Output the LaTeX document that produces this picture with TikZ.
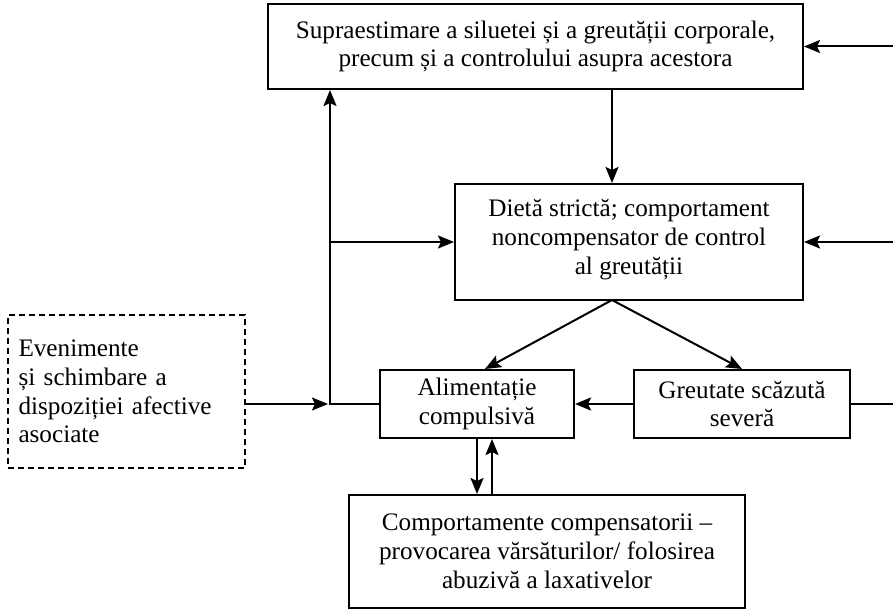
\documentclass[tikz,border=0pt]{standalone}
\usepackage{fontspec}
\setmainfont{Liberation Serif}
\usepackage{tikz}
\usetikzlibrary{arrows.meta,calc,positioning}

\begin{document}
\begin{tikzpicture}[x=0.5pt,y=-0.5pt,
  box/.style={draw,line width=1pt,align=center,inner sep=2pt,
    font=\fontsize{12.6}{14.4}\selectfont},
  dashbox/.style={box,dash pattern=on 3pt off 2pt,align=left},
  arr/.style={line width=1pt,-{Stealth[length=8pt,width=6.5pt,inset=1.5pt]}},
  ln/.style={line width=1pt}]
\useasboundingbox (0,0) rectangle (893,614);

% boxes
\node[box,minimum width=267.5pt,minimum height=42.5pt] (supra) at (535.5,46.5)
  {Supraestimare a siluetei și a greutății corporale,\\precum și a controlului asupra acestora};
\node[box,minimum width=174pt,minimum height=58pt] (dieta) at (629,242)
  {Dietă strictă; comportament\\noncompensator de control\\al greutății\\[-9pt]};
\node[box,minimum width=97pt,minimum height=34pt] (alim) at (477,404)
  {Alimentație\\compulsivă};
\node[box,minimum width=108pt,minimum height=34pt] (greut) at (742,404)
  {Greutate scăzută\\severă};
\node[dashbox,minimum width=118.5pt,minimum height=76.5pt,text width=108pt] (even) at (126.5,391.5)
  {Evenimente\\și schimbare a\\dispoziției afective\\asociate};
\node[box,minimum width=198pt,minimum height=56.5pt] (comp) at (547,551.5)
  {Comportamente compensatorii –\\provocarea vărsăturilor/ folosirea\\abuzivă a laxativelor};

\coordinate (apex) at (612,300);
\coordinate (loopS) at (330,404);
\coordinate (rightB) at (893,0);

% connectors
\draw[arr] (supra.south -| apex) -- (dieta.north -| apex);
\draw[arr] (apex) -- ([xshift=4pt]alim.north);
\draw[arr] (apex) -- (greut.north);
\draw[arr] (greut.west) -- (alim.east);
\draw[ln] (greut.east) -- (greut.east -| rightB);
\draw[arr] (rightB |- supra.east) -- (supra.east);
\draw[arr] (rightB |- dieta.east) -- (dieta.east);
\draw[arr] (alim.west) -- (loopS) -- (loopS |- supra.south);
\draw[arr] (loopS |- dieta.west) -- (dieta.west);
\draw[arr,shorten >=1pt] (even.east |- loopS) -- (loopS);
\draw[arr] (alim.south) -- (alim.south |- comp.north);
\draw[arr] ([xshift=7.5pt]alim.south |- comp.north) -- ([xshift=7.5pt]alim.south);
\end{tikzpicture}
\end{document}
